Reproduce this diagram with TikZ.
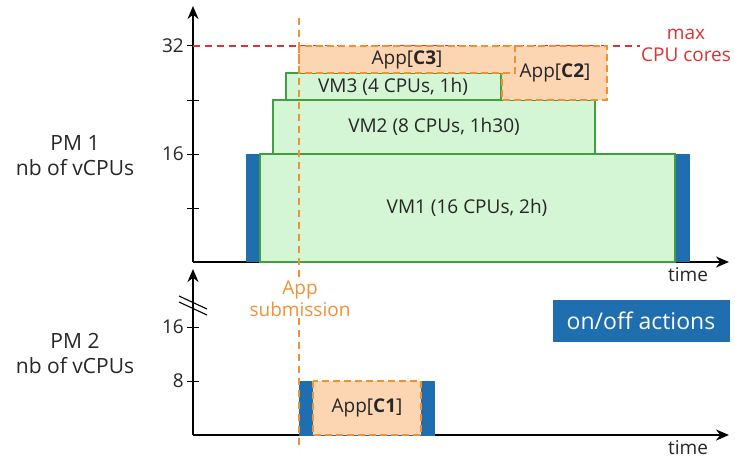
\documentclass[tikz,border=0pt]{standalone}
\usepackage{fontspec}
\setmainfont{Open Sans}
\usetikzlibrary{arrows.meta}

\definecolor{onoffblue}{RGB}{30,110,176}
\definecolor{vmfill}{RGB}{213,246,213}
\definecolor{vmline}{RGB}{62,160,62}
\definecolor{appfill}{RGB}{252,214,178}
\definecolor{appline}{RGB}{240,146,52}
\definecolor{maxred}{RGB}{224,48,48}

\begin{document}
\begin{tikzpicture}[x=1pt, y=-1pt, >={Stealth[length=13pt,width=11pt]},
    every node/.style={font=\fontsize{19}{22}\selectfont, text=black!85},
    axis/.style={->, line width=2.3pt},
    vmbox/.style={draw=vmline, fill=vmfill, line width=1.8pt},
    appbox/.style={draw=appline, fill=appfill, line width=1.8pt, dash pattern=on 7pt off 4pt},
    onoff/.style={fill=onoffblue},
    bigtext/.style={font=\fontsize{21}{25}\selectfont, align=center}]

    \useasboundingbox (0,0) rectangle (735,460);

    % axes PM 1
    \draw[axis] (193,262) -- (193,6);
    \draw[axis] (193,262) -- (729,262);
    \foreach \y in {46,100,154,208} \draw[line width=1pt] (187,\y) -- (199,\y);
    \node[left, inner sep=2pt] (ytwo) at (186,46) {32};
    \node[left, inner sep=2pt] (yone) at (186,154) {16};
    \node (timeone) at (688,275) {time};
    \node[bigtext] (pmone) at (75,156) {PM 1\\nb of vCPUs};

    % axes PM 2
    \draw[axis] (193,435) -- (193,269);
    \draw[axis] (193,435) -- (729,435);
    \foreach \y in {327,381} \draw[line width=1pt] (187,\y) -- (199,\y);
    \draw[line width=1.1pt] (179,296) -- (207,309);
    \draw[line width=1.1pt] (179,302) -- (207,315);
    \node[left, inner sep=2pt] (ythree) at (186,327) {16};
    \node[left, inner sep=2pt] (yfour) at (186,381) {8};
    \node (timetwo) at (688,448) {time};
    \node[bigtext] (pmtwo) at (75,353) {PM 2\\nb of vCPUs};

    % limite des coeurs
    \draw[maxred, line width=1.8pt, dash pattern=on 7pt off 5pt] (193,46) -- (640,46);
    \node[align=center, text=maxred] (maxcores) at (686,45) {max\\CPU cores};

    % VMs sur PM 1
    \fill[onoff] (246,154) rectangle (690,262);
    \draw[vmbox] (260,154) rectangle (675,262);
    \node (vmone) at (467,208) {VM1 (16 CPUs, 2h)};
    \draw[vmbox] (273,100) rectangle (595,154);
    \node (vmtwo) at (434,127) {VM2 (8 CPUs, 1h30)};
    \draw[vmbox] (286,73) rectangle (501,100);
    \node (vmthree) at (393,87) {VM3 (4 CPUs, 1h)};

    % applications
    \draw[appbox] (502,46) rectangle (607,100);
    \node (appctwo) at (555,73) {App[\textbf{C2}]};
    \draw[appbox] (299,46) rectangle (515,73);
    \node (appcthree) at (407,60) {App[\textbf{C3}]};

    % PM 2
    \fill[onoff] (299,381) rectangle (435,436);
    \draw[appbox] (313,381) rectangle (421,435);
    \node (appcone) at (367,408) {App[\textbf{C1}]};

    % soumission de l'application
    \draw[appline, line width=1.8pt, dash pattern=on 7pt off 5pt] (299,18) -- (299,450);
    \node[fill=white, inner sep=1pt, align=center, text=appline] (submit) at (300,299) {App\\submission};

    % legende
    \node[onoff, minimum width=177pt, minimum height=42pt, text=white, font=\fontsize{23}{26}\selectfont] (legend) at (641,321) {on/off actions};

\end{tikzpicture}
\end{document}
